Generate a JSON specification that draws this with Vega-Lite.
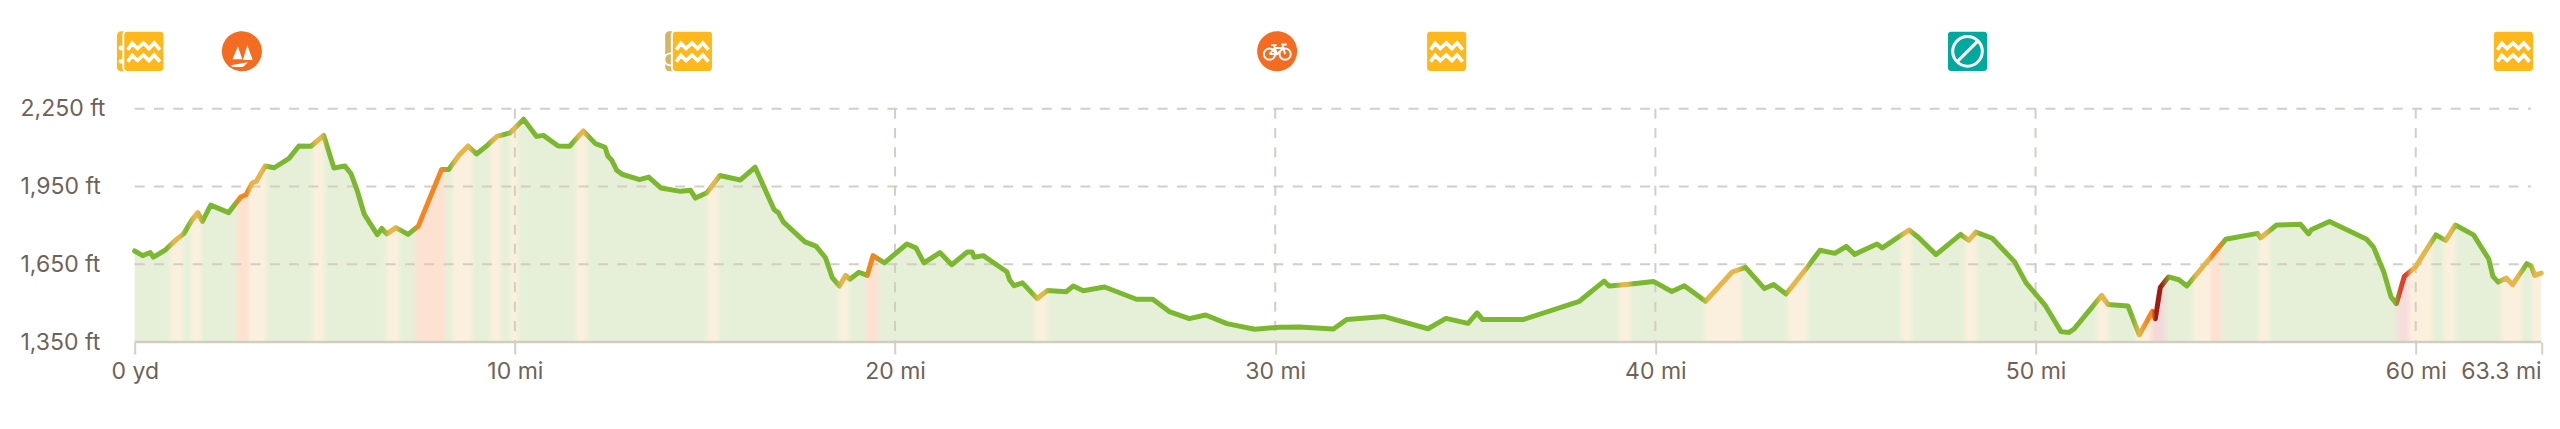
{
"$schema":"https://vega.github.io/schema/vega-lite/v6.json",
"width":2406.5,"height":342,
"autosize":"none",
"padding":{"left":134.7,"top":0,"right":18.8,"bottom":87},
"background":"white",
"config":{"view":{"stroke":null},"font":"Inter"},
"datasets":{
"profile":[
{"mi":0,"ele":1701},{"mi":0.21,"ele":1683},{"mi":0.41,"ele":1695},{"mi":0.49,"ele":1677},{"mi":0.8,"ele":1704},{"mi":1.07,"ele":1742},{"mi":1.29,"ele":1768},{"mi":1.5,"ele":1819},{"mi":1.66,"ele":1849},{"mi":1.78,"ele":1815},{"mi":2,"ele":1878},{"mi":2.47,"ele":1849},{"mi":2.79,"ele":1909},{"mi":2.93,"ele":1918},{"mi":3.09,"ele":1963},{"mi":3.2,"ele":1970},{"mi":3.43,"ele":2029},{"mi":3.67,"ele":2022},{"mi":4.06,"ele":2058},{"mi":4.32,"ele":2106},{"mi":4.64,"ele":2105},{"mi":4.97,"ele":2147},{"mi":5.24,"ele":2021},{"mi":5.53,"ele":2029},{"mi":5.69,"ele":1999},{"mi":5.85,"ele":1935},{"mi":6.04,"ele":1842},{"mi":6.38,"ele":1764},{"mi":6.5,"ele":1788},{"mi":6.63,"ele":1767},{"mi":6.87,"ele":1791},{"mi":7.19,"ele":1765},{"mi":7.46,"ele":1797},{"mi":8.07,"ele":2015},{"mi":8.26,"ele":2015},{"mi":8.53,"ele":2070},{"mi":8.77,"ele":2106},{"mi":8.99,"ele":2075},{"mi":9.28,"ele":2109},{"mi":9.53,"ele":2143},{"mi":9.87,"ele":2156},{"mi":10.23,"ele":2209},{"mi":10.57,"ele":2143},{"mi":10.75,"ele":2147},{"mi":11.14,"ele":2106},{"mi":11.44,"ele":2105},{"mi":11.8,"ele":2164},{"mi":12.12,"ele":2115},{"mi":12.37,"ele":2101},{"mi":12.45,"ele":2066},{"mi":12.55,"ele":2051},{"mi":12.68,"ele":2012},{"mi":12.82,"ele":1997},{"mi":13.28,"ele":1976},{"mi":13.52,"ele":1986},{"mi":13.84,"ele":1944},{"mi":14.36,"ele":1931},{"mi":14.62,"ele":1935},{"mi":14.75,"ele":1905},{"mi":15.05,"ele":1926},{"mi":15.39,"ele":1992},{"mi":15.93,"ele":1975},{"mi":16.32,"ele":2024},{"mi":16.82,"ele":1860},{"mi":16.93,"ele":1849},{"mi":17.06,"ele":1813},{"mi":17.63,"ele":1736},{"mi":17.92,"ele":1720},{"mi":18.17,"ele":1675},{"mi":18.35,"ele":1598},{"mi":18.54,"ele":1566},{"mi":18.7,"ele":1607},{"mi":18.81,"ele":1592},{"mi":19.05,"ele":1619},{"mi":19.27,"ele":1607},{"mi":19.42,"ele":1683},{"mi":19.72,"ele":1655},{"mi":20.31,"ele":1728},{"mi":20.55,"ele":1713},{"mi":20.76,"ele":1655},{"mi":21.18,"ele":1695},{"mi":21.49,"ele":1648},{"mi":21.9,"ele":1697},{"mi":22.03,"ele":1697},{"mi":22.08,"ele":1677},{"mi":22.32,"ele":1683},{"mi":22.94,"ele":1621},{"mi":23.02,"ele":1588},{"mi":23.13,"ele":1567},{"mi":23.35,"ele":1578},{"mi":23.74,"ele":1518},{"mi":24.01,"ele":1549},{"mi":24.5,"ele":1544},{"mi":24.69,"ele":1566},{"mi":24.95,"ele":1548},{"mi":25.51,"ele":1562},{"mi":26.35,"ele":1515},{"mi":26.78,"ele":1515},{"mi":27.23,"ele":1466},{"mi":27.74,"ele":1440},{"mi":28.17,"ele":1454},{"mi":28.73,"ele":1421},{"mi":29.46,"ele":1399},{"mi":30.11,"ele":1407},{"mi":30.64,"ele":1408},{"mi":31.53,"ele":1400},{"mi":31.88,"ele":1437},{"mi":32.87,"ele":1448},{"mi":34.02,"ele":1401},{"mi":34.49,"ele":1441},{"mi":35.07,"ele":1422},{"mi":35.31,"ele":1462},{"mi":35.45,"ele":1437},{"mi":36.53,"ele":1437},{"mi":38,"ele":1507},{"mi":38.65,"ele":1585},{"mi":38.78,"ele":1566},{"mi":39.23,"ele":1572},{"mi":39.96,"ele":1583},{"mi":40.43,"ele":1545},{"mi":40.76,"ele":1567},{"mi":41.32,"ele":1507},{"mi":42.02,"ele":1620},{"mi":42.37,"ele":1638},{"mi":42.87,"ele":1556},{"mi":43.11,"ele":1572},{"mi":43.44,"ele":1535},{"mi":44,"ele":1639},{"mi":44.33,"ele":1704},{"mi":44.72,"ele":1692},{"mi":45.02,"ele":1719},{"mi":45.24,"ele":1688},{"mi":45.83,"ele":1728},{"mi":45.97,"ele":1713},{"mi":46.67,"ele":1782},{"mi":46.93,"ele":1752},{"mi":47.38,"ele":1687},{"mi":48.03,"ele":1765},{"mi":48.24,"ele":1742},{"mi":48.43,"ele":1774},{"mi":48.86,"ele":1750},{"mi":49.45,"ele":1659},{"mi":49.75,"ele":1578},{"mi":50.26,"ele":1490},{"mi":50.67,"ele":1390},{"mi":50.88,"ele":1387},{"mi":51.01,"ele":1400},{"mi":51.74,"ele":1530},{"mi":51.9,"ele":1495},{"mi":52.43,"ele":1489},{"mi":52.73,"ele":1378},{"mi":53.07,"ele":1468},{"mi":53.15,"ele":1440},{"mi":53.28,"ele":1560},{"mi":53.5,"ele":1601},{"mi":53.77,"ele":1590},{"mi":53.98,"ele":1566},{"mi":55,"ele":1746},{"mi":55.84,"ele":1769},{"mi":55.92,"ele":1752},{"mi":56.34,"ele":1801},{"mi":56.97,"ele":1804},{"mi":57.18,"ele":1767},{"mi":57.25,"ele":1783},{"mi":57.73,"ele":1815},{"mi":58.71,"ele":1746},{"mi":58.89,"ele":1716},{"mi":59.16,"ele":1620},{"mi":59.35,"ele":1524},{"mi":59.49,"ele":1498},{"mi":59.7,"ele":1603},{"mi":59.99,"ele":1639},{"mi":60.53,"ele":1763},{"mi":60.79,"ele":1742},{"mi":61.04,"ele":1801},{"mi":61.52,"ele":1763},{"mi":61.92,"ele":1670},{"mi":62.03,"ele":1603},{"mi":62.17,"ele":1581},{"mi":62.38,"ele":1597},{"mi":62.55,"ele":1571},{"mi":62.92,"ele":1652},{"mi":63.04,"ele":1643},{"mi":63.13,"ele":1607},{"mi":63.3,"ele":1616}
],
"hgrid":[{"ele":1650,"from":0,"to":63.03},{"ele":1950,"from":0,"to":63.03},{"ele":2250,"from":0,"to":63.03}],
"vgrid":[{"mi":10,"low":1350,"high":2250},{"mi":20,"low":1350,"high":2250},{"mi":30,"low":1350,"high":2250},{"mi":40,"low":1350,"high":2250},{"mi":50,"low":1350,"high":2250},{"mi":60,"low":1350,"high":2250}],
"baseline":[{"ele":1350,"from":0,"to":63.3}],
"icons":[
{"mi":0.06,"alt":2471,"kind":"waterBack"},
{"mi":0.24,"alt":2471,"kind":"water"},
{"mi":2.82,"alt":2471,"kind":"boat"},
{"mi":14.48,"alt":2471,"kind":"tanBack"},
{"mi":14.67,"alt":2471,"kind":"water"},
{"mi":30.05,"alt":2471,"kind":"bike"},
{"mi":34.51,"alt":2471,"kind":"water"},
{"mi":48.21,"alt":2471,"kind":"closed"},
{"mi":62.57,"alt":2471,"kind":"water"}
]
},
"layer":[
{"data":{"name":"profile"},
 "mark":{"type":"area","interpolate":"linear","color":{"gradient":"linear","x1":0,"y1":0,"x2":1,"y2":0,"stops":[
{"offset":0,"color":"#e6f0d8"},
{"offset":0.01353,"color":"#e6f0d8"},{"offset":0.01611,"color":"#fbf0dd"},{"offset":0.01864,"color":"#fbf0dd"},{"offset":0.02122,"color":"#e6f0d8"},
{"offset":0.02191,"color":"#e6f0d8"},{"offset":0.02449,"color":"#fbf0dd"},{"offset":0.02638,"color":"#fbf0dd"},{"offset":0.02896,"color":"#e6f0d8"},
{"offset":0.04102,"color":"#e6f0d8"},{"offset":0.0436,"color":"#fde2d2"},{"offset":0.0466,"color":"#fde2d2"},{"offset":0.04818,"color":"#fbf0dd"},{"offset":0.0534,"color":"#fbf0dd"},{"offset":0.05598,"color":"#e6f0d8"},
{"offset":0.07278,"color":"#e6f0d8"},{"offset":0.07536,"color":"#fbf0dd"},{"offset":0.07725,"color":"#fbf0dd"},{"offset":0.07983,"color":"#e6f0d8"},
{"offset":0.10327,"color":"#e6f0d8"},{"offset":0.10585,"color":"#fbf0dd"},{"offset":0.10853,"color":"#fbf0dd"},{"offset":0.11111,"color":"#e6f0d8"},
{"offset":0.11512,"color":"#e6f0d8"},{"offset":0.11769,"color":"#fde2d2"},{"offset":0.12796,"color":"#fde2d2"},{"offset":0.12994,"color":"#e6f0d8"},
{"offset":0.13104,"color":"#e6f0d8"},{"offset":0.13302,"color":"#fbf0dd"},{"offset":0.13902,"color":"#fbf0dd"},{"offset":0.1416,"color":"#e6f0d8"},
{"offset":0.14655,"color":"#e6f0d8"},{"offset":0.14913,"color":"#fbf0dd"},{"offset":0.15087,"color":"#fbf0dd"},{"offset":0.15345,"color":"#e6f0d8"},
{"offset":0.15461,"color":"#e6f0d8"},{"offset":0.15719,"color":"#fbf0dd"},{"offset":0.15798,"color":"#fbf0dd"},{"offset":0.16056,"color":"#e6f0d8"},
{"offset":0.1821,"color":"#e6f0d8"},{"offset":0.18468,"color":"#fbf0dd"},{"offset":0.18657,"color":"#fbf0dd"},{"offset":0.18915,"color":"#e6f0d8"},
{"offset":0.2366,"color":"#e6f0d8"},{"offset":0.23918,"color":"#fbf0dd"},{"offset":0.24124,"color":"#fbf0dd"},{"offset":0.24382,"color":"#e6f0d8"},
{"offset":0.29111,"color":"#e6f0d8"},{"offset":0.29369,"color":"#fbf0dd"},{"offset":0.29558,"color":"#fbf0dd"},{"offset":0.29816,"color":"#e6f0d8"},
{"offset":0.30264,"color":"#e6f0d8"},{"offset":0.30522,"color":"#fde2d2"},{"offset":0.30775,"color":"#fde2d2"},{"offset":0.31033,"color":"#e6f0d8"},
{"offset":0.37278,"color":"#e6f0d8"},{"offset":0.37536,"color":"#fbf0dd"},{"offset":0.37773,"color":"#fbf0dd"},{"offset":0.38031,"color":"#e6f0d8"},
{"offset":0.61544,"color":"#e6f0d8"},{"offset":0.61802,"color":"#fbf0dd"},{"offset":0.62023,"color":"#fbf0dd"},{"offset":0.62281,"color":"#e6f0d8"},
{"offset":0.65098,"color":"#e6f0d8"},{"offset":0.65356,"color":"#fbf0dd"},{"offset":0.66636,"color":"#fbf0dd"},{"offset":0.66894,"color":"#e6f0d8"},
{"offset":0.68542,"color":"#e6f0d8"},{"offset":0.688,"color":"#fbf0dd"},{"offset":0.69385,"color":"#fbf0dd"},{"offset":0.69643,"color":"#e6f0d8"},
{"offset":0.73282,"color":"#e6f0d8"},{"offset":0.7354,"color":"#fbf0dd"},{"offset":0.73699,"color":"#fbf0dd"},{"offset":0.73956,"color":"#e6f0d8"},
{"offset":0.75921,"color":"#e6f0d8"},{"offset":0.76178,"color":"#fbf0dd"},{"offset":0.76431,"color":"#fbf0dd"},{"offset":0.76689,"color":"#e6f0d8"},
{"offset":0.81418,"color":"#e6f0d8"},{"offset":0.81676,"color":"#fbf0dd"},{"offset":0.81897,"color":"#fbf0dd"},{"offset":0.82155,"color":"#e6f0d8"},
{"offset":0.83029,"color":"#e6f0d8"},{"offset":0.83287,"color":"#fbf0dd"},{"offset":0.8365,"color":"#fbf0dd"},{"offset":0.83808,"color":"#fde2d2"},{"offset":0.83966,"color":"#f3d8dc"},{"offset":0.84203,"color":"#f3d8dc"},{"offset":0.84573,"color":"#e6f0d8"},
{"offset":0.85398,"color":"#e6f0d8"},{"offset":0.85657,"color":"#fbf0dd"},{"offset":0.86178,"color":"#fbf0dd"},{"offset":0.86336,"color":"#fde2d2"},{"offset":0.86605,"color":"#fde2d2"},{"offset":0.86863,"color":"#e6f0d8"},
{"offset":0.88132,"color":"#e6f0d8"},{"offset":0.8839,"color":"#fbf0dd"},{"offset":0.88564,"color":"#fbf0dd"},{"offset":0.88822,"color":"#e6f0d8"},
{"offset":0.93882,"color":"#e6f0d8"},{"offset":0.94156,"color":"#f7dcdc"},{"offset":0.94393,"color":"#f7dcdc"},{"offset":0.9463,"color":"#fbf0dd"},{"offset":0.95339,"color":"#fbf0dd"},{"offset":0.95597,"color":"#e6f0d8"},
{"offset":0.95825,"color":"#e6f0d8"},{"offset":0.96083,"color":"#fbf0dd"},{"offset":0.96288,"color":"#fbf0dd"},{"offset":0.96547,"color":"#e6f0d8"},
{"offset":0.98194,"color":"#e6f0d8"},{"offset":0.98453,"color":"#fbf0dd"},{"offset":0.99053,"color":"#fbf0dd"},{"offset":0.99311,"color":"#e6f0d8"},
{"offset":0.99475,"color":"#e6f0d8"},{"offset":0.99733,"color":"#fbf0dd"},{"offset":1,"color":"#fbf0dd"}
]}},
 "encoding":{"x":{"field":"mi","type":"quantitative","scale":{"domain":[0,63.3],"nice":false,"zero":false},"axis":{"title":null,"values":[0,10,20,30,40,50,60,63.3],"grid":false,"domain":false,"tickSize":12,"tickWidth":2,"tickColor":"#d5d0c6","labelFont":"Inter","labelFontSize":23,"labelColor":"#6f6357","labelPadding":6,"labelFlush":false,"labelOverlap":false,"labelExpr":"datum.value === 0 ? '0 yd' : datum.value + ' mi'","labelAlign":{"condition":{"test":"datum.value > 63","value":"right"},"value":"center"}}},
 "y":{"field":"ele","type":"quantitative","scale":{"domain":[1350,2669],"nice":false,"zero":false},"axis":{"title":null,"values":[1350,1650,1950,2250],"grid":false,"domain":false,"ticks":false,"labelFont":"Inter","labelFontSize":23,"labelColor":"#6f6357","labelPadding":114.7,"labelAlign":"left","labelBound":false,"labelFlush":false,"labelOverlap":false,"labelExpr":"format(datum.value, ',') + ' ft'"}},
 "y2":{"datum":1350}}
},
{"data":{"name":"hgrid"},"mark":{"type":"rule","color":"#cfcabf","opacity":0.9,"strokeWidth":2,"strokeDash":[10,9.3]},
 "encoding":{"x":{"field":"from","type":"quantitative"},"x2":{"field":"to"},"y":{"field":"ele","type":"quantitative"}}},
{"data":{"name":"vgrid"},"mark":{"type":"rule","color":"#cfcabf","opacity":0.9,"strokeWidth":2,"strokeDash":[10,9.3]},
 "encoding":{"x":{"field":"mi","type":"quantitative"},"y":{"field":"high","type":"quantitative"},"y2":{"field":"low"}}},
{"data":{"name":"baseline"},"mark":{"type":"rule","color":"#d2cdc2","strokeWidth":2.5},
 "encoding":{"x":{"field":"from","type":"quantitative"},"x2":{"field":"to"},"y":{"field":"ele","type":"quantitative"}}},
{"data":{"name":"profile"},
 "mark":{"type":"line","interpolate":"linear","strokeWidth":5,"strokeJoin":"round","strokeCap":"round","color":{"gradient":"linear","x1":0,"y1":0,"x2":1,"y2":0,"stops":[
{"offset":0,"color":"#7cb82f"},
{"offset":0.01353,"color":"#7cb82f"},{"offset":0.01611,"color":"#e5b64a"},{"offset":0.01864,"color":"#e5b64a"},{"offset":0.02122,"color":"#7cb82f"},
{"offset":0.02191,"color":"#7cb82f"},{"offset":0.02449,"color":"#e5b64a"},{"offset":0.02638,"color":"#e5b64a"},{"offset":0.02896,"color":"#7cb82f"},
{"offset":0.04102,"color":"#7cb82f"},{"offset":0.0436,"color":"#f5851f"},{"offset":0.0466,"color":"#f5851f"},{"offset":0.04818,"color":"#e5b64a"},{"offset":0.0534,"color":"#e5b64a"},{"offset":0.05598,"color":"#7cb82f"},
{"offset":0.07278,"color":"#7cb82f"},{"offset":0.07536,"color":"#e5b64a"},{"offset":0.07725,"color":"#e5b64a"},{"offset":0.07983,"color":"#7cb82f"},
{"offset":0.10327,"color":"#7cb82f"},{"offset":0.10585,"color":"#e5b64a"},{"offset":0.10853,"color":"#e5b64a"},{"offset":0.11111,"color":"#7cb82f"},
{"offset":0.11512,"color":"#7cb82f"},{"offset":0.11769,"color":"#f5851f"},{"offset":0.12796,"color":"#f5851f"},{"offset":0.12994,"color":"#7cb82f"},
{"offset":0.13104,"color":"#7cb82f"},{"offset":0.13302,"color":"#e5b64a"},{"offset":0.13902,"color":"#e5b64a"},{"offset":0.1416,"color":"#7cb82f"},
{"offset":0.14655,"color":"#7cb82f"},{"offset":0.14913,"color":"#e5b64a"},{"offset":0.15087,"color":"#e5b64a"},{"offset":0.15345,"color":"#7cb82f"},
{"offset":0.15461,"color":"#7cb82f"},{"offset":0.15719,"color":"#e5b64a"},{"offset":0.15798,"color":"#e5b64a"},{"offset":0.16056,"color":"#7cb82f"},
{"offset":0.1821,"color":"#7cb82f"},{"offset":0.18468,"color":"#e5b64a"},{"offset":0.18657,"color":"#e5b64a"},{"offset":0.18915,"color":"#7cb82f"},
{"offset":0.2366,"color":"#7cb82f"},{"offset":0.23918,"color":"#e5b64a"},{"offset":0.24124,"color":"#e5b64a"},{"offset":0.24382,"color":"#7cb82f"},
{"offset":0.29111,"color":"#7cb82f"},{"offset":0.29369,"color":"#e5b64a"},{"offset":0.29558,"color":"#e5b64a"},{"offset":0.29816,"color":"#7cb82f"},
{"offset":0.30264,"color":"#7cb82f"},{"offset":0.30522,"color":"#f5851f"},{"offset":0.30775,"color":"#f5851f"},{"offset":0.31033,"color":"#7cb82f"},
{"offset":0.37278,"color":"#7cb82f"},{"offset":0.37536,"color":"#e5b64a"},{"offset":0.37773,"color":"#e5b64a"},{"offset":0.38031,"color":"#7cb82f"},
{"offset":0.61544,"color":"#7cb82f"},{"offset":0.61802,"color":"#e5b64a"},{"offset":0.62023,"color":"#e5b64a"},{"offset":0.62281,"color":"#7cb82f"},
{"offset":0.65098,"color":"#7cb82f"},{"offset":0.65356,"color":"#e5b64a"},{"offset":0.66636,"color":"#e5b64a"},{"offset":0.66894,"color":"#7cb82f"},
{"offset":0.68542,"color":"#7cb82f"},{"offset":0.688,"color":"#e5b64a"},{"offset":0.69385,"color":"#e5b64a"},{"offset":0.69643,"color":"#7cb82f"},
{"offset":0.73282,"color":"#7cb82f"},{"offset":0.7354,"color":"#e5b64a"},{"offset":0.73699,"color":"#e5b64a"},{"offset":0.73956,"color":"#7cb82f"},
{"offset":0.75921,"color":"#7cb82f"},{"offset":0.76178,"color":"#e5b64a"},{"offset":0.76431,"color":"#e5b64a"},{"offset":0.76689,"color":"#7cb82f"},
{"offset":0.81418,"color":"#7cb82f"},{"offset":0.81676,"color":"#e5b64a"},{"offset":0.81897,"color":"#e5b64a"},{"offset":0.82155,"color":"#7cb82f"},
{"offset":0.83029,"color":"#7cb82f"},{"offset":0.83287,"color":"#e5b64a"},{"offset":0.8365,"color":"#f5851f"},{"offset":0.83808,"color":"#f5851f"},{"offset":0.83966,"color":"#a01c10"},{"offset":0.84203,"color":"#a01c10"},{"offset":0.84573,"color":"#7cb82f"},
{"offset":0.85398,"color":"#7cb82f"},{"offset":0.85657,"color":"#e5b64a"},{"offset":0.86178,"color":"#e5b64a"},{"offset":0.86336,"color":"#f5851f"},{"offset":0.86605,"color":"#f5851f"},{"offset":0.86863,"color":"#7cb82f"},
{"offset":0.88132,"color":"#7cb82f"},{"offset":0.8839,"color":"#e5b64a"},{"offset":0.88564,"color":"#e5b64a"},{"offset":0.88822,"color":"#7cb82f"},
{"offset":0.93882,"color":"#7cb82f"},{"offset":0.94156,"color":"#e0402a"},{"offset":0.94393,"color":"#e0402a"},{"offset":0.9463,"color":"#e5b64a"},{"offset":0.95339,"color":"#e5b64a"},{"offset":0.95597,"color":"#7cb82f"},
{"offset":0.95825,"color":"#7cb82f"},{"offset":0.96083,"color":"#e5b64a"},{"offset":0.96288,"color":"#e5b64a"},{"offset":0.96547,"color":"#7cb82f"},
{"offset":0.98194,"color":"#7cb82f"},{"offset":0.98453,"color":"#e5b64a"},{"offset":0.99053,"color":"#e5b64a"},{"offset":0.99311,"color":"#7cb82f"},
{"offset":0.99475,"color":"#7cb82f"},{"offset":0.99733,"color":"#e5b64a"},{"offset":1,"color":"#e5b64a"}
]}},
 "encoding":{"x":{"field":"mi","type":"quantitative"},"y":{"field":"ele","type":"quantitative"}}},
{"data":{"name":"icons"},"transform":[{"filter":"datum.kind === 'waterBack' || datum.kind === 'tanBack'"}],
 "mark":{"type":"point","filled":true,"opacity":1,"size":1600,"shape":"M-0.8,-1H0.8A0.2,0.2,0,0,1,1,-0.8V0.8A0.2,0.2,0,0,1,0.8,1H-0.8A0.2,0.2,0,0,1,-1,0.8V-0.8A0.2,0.2,0,0,1,-0.8,-1Z"},
 "encoding":{"x":{"field":"mi","type":"quantitative"},"y":{"field":"alt","type":"quantitative"},"fill":{"field":"kind","type":"nominal","legend":null,"scale":{"domain":["waterBack","tanBack"],"range":["#ffb81c","#d5b466"]}}}},
{"data":{"name":"icons"},"transform":[{"filter":"datum.kind === 'waterBack'"}],
 "mark":{"type":"point","filled":false,"opacity":1,"size":1600,"stroke":"white","strokeWidth":2.5,"shape":"M-0.86,-0.17a0.06,0.06,0,1,0,0.12,0a0.06,0.06,0,1,0,-0.12,0ZM-0.86,0.5a0.06,0.06,0,1,0,0.12,0a0.06,0.06,0,1,0,-0.12,0Z"},
 "encoding":{"x":{"field":"mi","type":"quantitative"},"y":{"field":"alt","type":"quantitative"}}},
{"data":{"name":"icons"},"transform":[{"filter":"datum.kind === 'tanBack'"}],
 "mark":{"type":"point","filled":false,"opacity":1,"size":1600,"stroke":"white","strokeWidth":1.8,"shape":"M-1.05,0.4a0.3,0.3,0,1,0,0.6,0a0.3,0.3,0,1,0,-0.6,0Z"},
 "encoding":{"x":{"field":"mi","type":"quantitative"},"y":{"field":"alt","type":"quantitative"}}},
{"data":{"name":"icons"},"transform":[{"filter":"datum.kind === 'water' || datum.kind === 'closed'"}],
 "mark":{"type":"point","filled":true,"opacity":1,"size":1690,"stroke":"white","strokeWidth":2,"shape":"M-0.8,-1H0.8A0.2,0.2,0,0,1,1,-0.8V0.8A0.2,0.2,0,0,1,0.8,1H-0.8A0.2,0.2,0,0,1,-1,0.8V-0.8A0.2,0.2,0,0,1,-0.8,-1Z"},
 "encoding":{"x":{"field":"mi","type":"quantitative"},"y":{"field":"alt","type":"quantitative"},"fill":{"field":"kind","type":"nominal","legend":null,"scale":{"domain":["water","closed"],"range":["#ffb81c","#00a99d"]}}}},
{"data":{"name":"icons"},"transform":[{"filter":"datum.kind === 'boat' || datum.kind === 'bike'"}],
 "mark":{"type":"point","filled":true,"opacity":1,"size":1600,"shape":"M-1,0a1,1,0,1,0,2,0a1,1,0,1,0,-2,0Z","color":"#f36c21"},
 "encoding":{"x":{"field":"mi","type":"quantitative"},"y":{"field":"alt","type":"quantitative"}}},
{"data":{"name":"icons"},"transform":[{"filter":"datum.kind === 'water'"}],
 "mark":{"type":"point","filled":false,"opacity":1,"size":1600,"stroke":"white","strokeWidth":3.6,"shape":"M-0.8,-0.08L-0.58,-0.4L-0.32,-0.14L-0.02,-0.42L0.26,-0.14L0.52,-0.42L0.8,-0.08M-0.8,0.52L-0.58,0.2L-0.32,0.46L-0.02,0.18L0.26,0.46L0.52,0.18L0.8,0.52"},
 "encoding":{"x":{"field":"mi","type":"quantitative"},"y":{"field":"alt","type":"quantitative"}}},
{"data":{"name":"icons"},"transform":[{"filter":"datum.kind === 'closed'"}],
 "mark":{"type":"point","filled":false,"opacity":1,"size":1600,"stroke":"white","strokeWidth":3,"shape":"M-0.74,0a0.74,0.74,0,1,0,1.48,0a0.74,0.74,0,1,0,-1.48,0ZM-0.5,0.5L0.5,-0.5"},
 "encoding":{"x":{"field":"mi","type":"quantitative"},"y":{"field":"alt","type":"quantitative"}}},
{"data":{"name":"icons"},"transform":[{"filter":"datum.kind === 'bike'"}],
 "mark":{"type":"point","filled":false,"opacity":1,"size":1600,"stroke":"white","strokeWidth":1.9,"shape":"M-0.66,0.14a0.28,0.28,0,1,0,0.56,0a0.28,0.28,0,1,0,-0.56,0ZM0.12,0.14a0.28,0.28,0,1,0,0.56,0a0.28,0.28,0,1,0,-0.56,0ZM-0.38,0.14L-0.12,-0.17L0.31,-0.17L0.4,0.14M-0.12,-0.17L0,0.14L0.31,-0.17M-0.38,0.14L0,0.14M-0.29,-0.31L-0.03,-0.31M-0.14,-0.31L-0.12,-0.17M0.31,-0.17L0.26,-0.34L0.48,-0.34"},
 "encoding":{"x":{"field":"mi","type":"quantitative"},"y":{"field":"alt","type":"quantitative"}}},
{"data":{"name":"icons"},"transform":[{"filter":"datum.kind === 'boat'"}],
 "mark":{"type":"point","filled":true,"opacity":1,"size":1600,"color":"white","shape":"M-0.2,-0.26L-0.47,0.4L0.02,0.4ZM0.27,-0.3L0.05,0.43L0.54,0.43ZM-0.55,0.7L0.3,0.55L0.05,0.78L-0.47,0.78Z"},
 "encoding":{"x":{"field":"mi","type":"quantitative"},"y":{"field":"alt","type":"quantitative"}}}
],
"resolve":{"scale":{"fill":"independent"}}
}
